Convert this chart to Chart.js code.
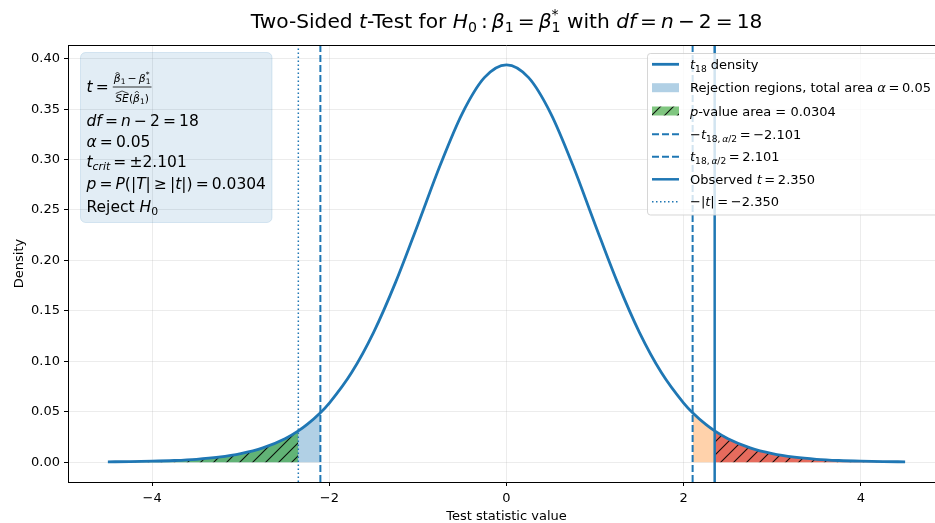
<!DOCTYPE html>
<html><head><meta charset="utf-8">
<script src="https://cdn.jsdelivr.net/npm/chart.js@4/dist/chart.umd.min.js"></script>
<style>
html,body{margin:0;padding:0;overflow:hidden;background:#fff;width:935px;height:523px}
#wrap{position:relative;width:960px;height:523px}
canvas{display:block}
</style></head>
<body><div id="wrap"><canvas id="c" width="960" height="523" style="width:960px;height:523px"></canvas></div>
<script>
// ---- data ----
const xValues = [-4.5,-4.25,-4,-3.75,-3.5,-3.25,-3,-2.75,-2.5,-2.35,-2.25,-2.101,-2,-1.75,-1.5,-1.25,-1,-0.75,-0.5,-0.25,0,
                  0.25,0.5,0.75,1,1.25,1.5,1.75,2,2.101,2.25,2.35,2.5,2.75,3,3.25,3.5,3.75,4,4.25,4.5];
const densityValues = [0.0003,0.0005,0.0009,0.0016,0.0028,0.0049,0.0084,0.0141,0.0232,0.0310,0.0374,0.0490,0.0586,0.0886,0.1287,0.1787,0.2357,0.2941,0.3456,0.3812,0.3939,
                  0.3812,0.3456,0.2941,0.2357,0.1787,0.1287,0.0886,0.0586,0.0490,0.0374,0.0310,0.0232,0.0141,0.0084,0.0049,0.0028,0.0016,0.0009,0.0005,0.0003];
const tCritical = 2.101;
const tObserved = 2.350;
const xTickValues = [-4,-2,0,2,4];
const xTickLabels = ['\u22124','\u22122','0','2','4'];
const yTickValues = [0,0.05,0.10,0.15,0.20,0.25,0.30,0.35,0.40];
const yTickLabels = ['0.00','0.05','0.10','0.15','0.20','0.25','0.30','0.35','0.40'];
const xLimits = [-4.95, 4.95];
const yLimits = [-0.0197, 0.4136];
const xAxisTitle = 'Test statistic value';
const yAxisTitle = 'Density';

// ---- styling ----
const C0 = '#1f77b4';
const FONT = '"DejaVu Sans", sans-serif';
const ctx0 = document.getElementById('c').getContext('2d');
function hatch(fill){
  const s = 13, c = document.createElement('canvas'); c.width = s; c.height = s;
  const g = c.getContext('2d');
  g.fillStyle = fill; g.fillRect(0,0,s,s);
  g.strokeStyle = 'rgba(0,0,0,0.9)'; g.lineWidth = 1.1;
  g.beginPath();
  g.moveTo(-1,s+1); g.lineTo(s+1,-1);
  g.moveTo(-2,2); g.lineTo(2,-2);
  g.moveTo(s-2,s+2); g.lineTo(s+2,s-2);
  g.stroke();
  return ctx0.createPattern(c,'repeat');
}
const greenHatch = hatch('rgba(44,160,44,0.6)');
const redHatch = hatch('rgba(214,39,40,0.6)');
const blueFill = 'rgba(31,119,180,0.35)';
const orangeFill = 'rgba(255,127,14,0.35)';

const pts = xValues.map((x,i)=>({x:x, y:densityValues[i]}));
const sub = f => pts.filter(p=>f(p.x));
function vline(x, dash, w, label){
  return {label, data:[{x:x,y:yLimits[0]},{x:x,y:yLimits[1]}], borderColor:C0, borderWidth:w,
          borderDash:dash, pointRadius:0, fill:false, order:2, borderCapStyle:'butt'};
}
const fillBase = {pointRadius:0, borderWidth:0, cubicInterpolationMode:'monotone', fill:'origin'};

const datasets = [
  {label:'t18 density', data:pts, borderColor:C0, borderWidth:2.8, pointRadius:0, cubicInterpolationMode:'monotone', fill:false, order:0},
  Object.assign({label:'rej L', data:sub(x=>x<=-tCritical+1e-9), backgroundColor:blueFill, order:8}, fillBase),
  Object.assign({label:'rej R', data:sub(x=>x>=tCritical-1e-9), backgroundColor:orangeFill, order:8}, fillBase),
  Object.assign({label:'p L', data:sub(x=>x<=-tObserved+1e-9), backgroundColor:greenHatch, order:6}, fillBase),
  Object.assign({label:'p R', data:sub(x=>x>=tObserved-1e-9), backgroundColor:redHatch, order:6}, fillBase),
  vline(-tCritical,[7,3],2,'-tc'),
  vline(tCritical,[7,3],2,'tc'),
  vline(tObserved,[],2.5,'tobs'),
  vline(-tObserved,[1.5,2.5],1.5,'-|t|'),
];

// ---- rich text helper ----
function rich(ctx, x, y, segs, size, draw){
  let cx = x, lastStart = x;
  for (const s of segs){
    const t = s[0], f = s[1]||'';
    const it = f.includes('i'), lvl = f.includes('b') ? -1 : (f.includes('p') ? 1 : 0);
    const fs = lvl ? size*0.7 : size;
    ctx.font = (it?'italic ':'') + fs + 'px ' + FONT;
    const dy = lvl===-1 ? size*0.22 : (lvl===1 ? -size*0.42 : 0);
    const px = f.includes('k') ? lastStart : cx;
    const w = ctx.measureText(t).width;
    if (draw) ctx.fillText(t, px, y+dy);
    if (f.includes('k')) cx = Math.max(cx, px+w); else { lastStart = px; cx = px+w; }
  }
  return cx - x;
}
const S = '\u2009';
const titleSegs = [['Two-Sided '],['t','i'],['-Test for '],['H','i'],['0','b'],[S+':'+S],['\u03b2','i'],['1','b'],[S+'='+S],['\u03b2','i'],['1','b'],['*','pk'],[' with '],['df','i'],[S+'='+S],['n','i'],[S+'\u2212'+S+'2'+S+'='+S+'18']];
const boxLines = [
  [['df','i'],[S+'='+S],['n','i'],[S+'\u2212'+S+'2'+S+'='+S+'18']],
  [['\u03b1','i'],[S+'='+S+'0.05']],
  [['t','i'],['crit','bi'],[S+'='+S+'\u00b12.101']],
  [['p','i'],[S+'='+S],['P','i'],['(|'],['T','i'],['|'+S+'\u2265'+S+'|'],['t','i'],['|)'+S+'='+S+'0.0304']],
  [['Reject '],['H','i'],['0','b']]
];
const boxBaselines = [126, 146.5, 167, 189, 211.5];
const legendRows = [
  {segs:[['t','i'],['18','b'],[' density']], h:'line', w:2.8, dash:[]},
  {segs:[['Rejection regions, total area '],['\u03b1','i'],[S+'='+S+'0.05']], h:'patch', fill:blueFill},
  {segs:[['p','i'],['-value area = 0.0304']], h:'patch', fill:greenHatch},
  {segs:[['\u2212'],['t','i'],['18,'+S,'b'],['\u03b1','bi'],['/2','b'],[S+'='+S+'\u22122.101']], h:'line', w:2, dash:[7,3]},
  {segs:[['t','i'],['18,'+S,'b'],['\u03b1','bi'],['/2','b'],[S+'='+S+'2.101']], h:'line', w:2, dash:[7,3]},
  {segs:[['Observed '],['t','i'],[S+'='+S+'2.350']], h:'line', w:2.5, dash:[]},
  {segs:[['\u2212|'],['t','i'],['|'+S+'='+S+'\u22122.350']], h:'line', w:1.5, dash:[1.5,2.5]},
];

function rrect(ctx,x,y,w,h,r){ctx.beginPath();ctx.moveTo(x+r,y);ctx.lineTo(x+w-r,y);ctx.arcTo(x+w,y,x+w,y+r,r);ctx.lineTo(x+w,y+h-r);ctx.arcTo(x+w,y+h,x+w-r,y+h,r);ctx.lineTo(x+r,y+h);ctx.arcTo(x,y+h,x,y+h-r,r);ctx.lineTo(x,y+r);ctx.arcTo(x,y,x+r,y,r);ctx.closePath();}

const decor = {
  id:'decor',
  afterDraw(chart){
    const ctx = chart.ctx, a = chart.chartArea;
    ctx.save();
    // spines top/right
    ctx.strokeStyle = '#000'; ctx.lineWidth = 1;
    ctx.beginPath(); ctx.moveTo(a.left, a.top+0.5); ctx.lineTo(a.right, a.top+0.5); ctx.moveTo(a.right-0.5,a.top); ctx.lineTo(a.right-0.5,a.bottom); ctx.stroke();
    ctx.fillStyle = '#000'; ctx.textBaseline = 'alphabetic';
    // title
    const ts = 20.2;
    const tw = rich(ctx,0,0,titleSegs,ts,false);
    rich(ctx,(a.left+a.right)/2 - tw/2, 27.5, titleSegs, ts, true);
    // axis titles
    ctx.font = '13px ' + FONT; ctx.textAlign = 'center';
    ctx.fillText(xAxisTitle, (a.left+a.right)/2, 520);
    ctx.save(); ctx.translate(23, (a.top+a.bottom)/2); ctx.rotate(-Math.PI/2); ctx.fillText(yAxisTitle,0,0); ctx.restore();
    ctx.textAlign = 'left';
    // text box
    rrect(ctx, 80.5, 52.5, 191.5, 170, 5);
    ctx.fillStyle = 'rgba(31,119,180,0.13)'; ctx.fill();
    ctx.strokeStyle = 'rgba(31,119,180,0.15)'; ctx.lineWidth = 1; ctx.stroke();
    ctx.fillStyle = '#000';
    const bs = 15.5, bx = 86.5;
    // fraction line: t = frac
    let w = rich(ctx, bx, 92, [['t','i'],[S+'='+S]], bs, true);
    const fx = bx + w + 1, fs = 10.8;
    const numSegs = [['\u03b2','i'],['1','b'],[S+'\u2212'+S],['\u03b2','i'],['1','b'],['*','pk']];
    const denSegs = [['SE','i'],['('],['\u03b2','i'],['1','b'],[')']];
    const nw = rich(ctx,0,0,numSegs,fs,false), dw = rich(ctx,0,0,denSegs,fs,false);
    const fw = Math.max(nw,dw) + 2;
    rich(ctx, fx + (fw-nw)/2, 82, numSegs, fs, true);
    rich(ctx, fx + (fw-dw)/2, 101.5, denSegs, fs, true);
    ctx.fillRect(fx, 86.6, fw, 0.8);
    // hats
    const hatAt = (x,y)=>{ctx.beginPath();ctx.moveTo(x-2,y+1.5);ctx.lineTo(x,y-0.5);ctx.lineTo(x+2,y+1.5);ctx.lineWidth=0.7;ctx.strokeStyle='#000';ctx.stroke();};
    const n0 = fx + (fw-nw)/2; hatAt(n0+3.7, 72.5);
    const d0 = fx + (fw-dw)/2;
    ctx.font = 'italic '+fs+'px '+FONT;
    const seW = ctx.measureText('SE').width;
    ctx.beginPath(); ctx.moveTo(d0+0.5,93.5); ctx.lineTo(d0+seW/2,91); ctx.lineTo(d0+seW-0.5,93.5); ctx.lineWidth=0.7; ctx.stroke();
    ctx.font = fs+'px '+FONT;
    const pW = ctx.measureText('(').width;
    hatAt(d0+seW+pW+3.7, 91.5);
    boxLines.forEach((segs,i)=>rich(ctx, bx, boxBaselines[i], segs, bs, true));
    // legend
    rrect(ctx, 647.5, 53.5, 320, 161.5, 3);
    ctx.fillStyle = 'rgba(255,255,255,0.8)'; ctx.fill();
    ctx.strokeStyle = 'rgba(204,204,204,0.8)'; ctx.lineWidth = 1; ctx.stroke();
    const rowY = [64.3, 87.7, 111, 134.3, 156.7, 179.3, 201.7];
    legendRows.forEach((r,i)=>{
      const y = rowY[i];
      if (r.h==='line'){
        ctx.strokeStyle = C0; ctx.lineWidth = r.w; ctx.setLineDash(r.dash); ctx.lineCap='butt';
        ctx.beginPath(); ctx.moveTo(652, y); ctx.lineTo(679, y); ctx.stroke(); ctx.setLineDash([]);
      } else {
        ctx.fillStyle = r.fill; ctx.fillRect(652, y-4.5, 27, 9);
      }
      ctx.fillStyle = '#000';
      rich(ctx, 690, y+4.6, r.segs, 13, true);
    });
    ctx.restore();
  }
};

const tickFont = {family:FONT, size:13};
new Chart(ctx0, {
  type:'line',
  data:{datasets},
  options:{
    responsive:false, animation:false, events:[],
    layout:{padding:{left:0, right:15, top:45, bottom:0}},
    plugins:{legend:{display:false}, tooltip:{enabled:false}, title:{display:false}},
    scales:{
      x:{type:'linear', min:xLimits[0], max:xLimits[1],
         afterBuildTicks:s=>{s.ticks = xTickValues.map(v=>({value:v}));},
         afterFit:s=>{s.height = 41;},
         ticks:{callback:(v,i)=>xTickLabels[i], font:tickFont, color:'#000', padding:4.5, maxRotation:0, autoSkip:false},
         grid:{color:'rgba(176,176,176,0.3)', lineWidth:0.8, tickColor:'#000', tickLength:4, tickWidth:1},
         border:{color:'#000', width:1}},
      y:{type:'linear', min:yLimits[0], max:yLimits[1],
         afterBuildTicks:s=>{s.ticks = yTickValues.map(v=>({value:v}));},
         afterFit:s=>{s.width = 68;},
         ticks:{callback:(v,i)=>yTickLabels[i], font:tickFont, color:'#000', padding:4, autoSkip:false},
         grid:{color:'rgba(176,176,176,0.3)', lineWidth:0.8, tickColor:'#000', tickLength:4, tickWidth:1},
         border:{color:'#000', width:1}}
    }
  },
  plugins:[decor]
});
</script>
</body></html>
